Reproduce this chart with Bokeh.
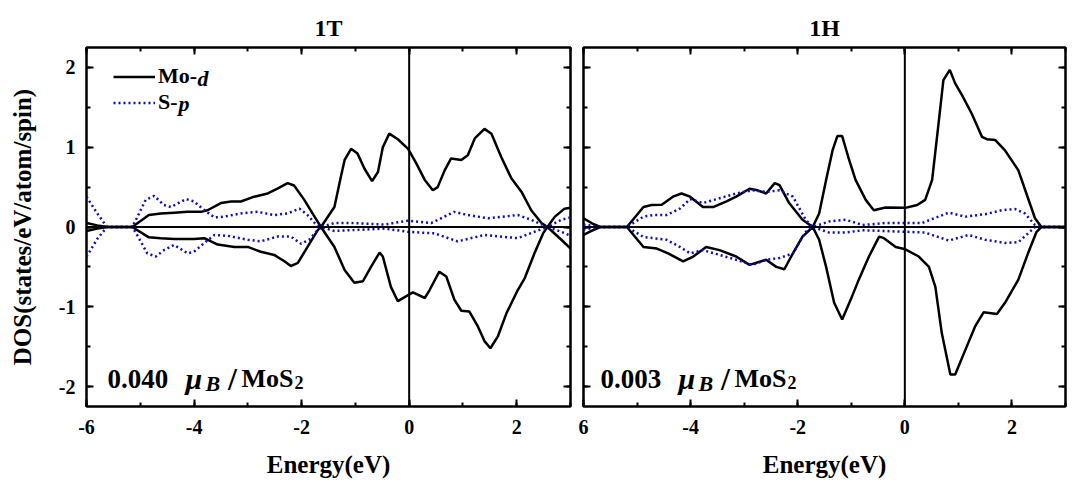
from bokeh.plotting import figure
from bokeh.models import (LinearAxis, SingleIntervalTicker, Span, Label, Legend,
                          LegendItem, Range1d)
from bokeh.layouts import row
from bokeh.embed import file_html
from bokeh.resources import INLINE

# ---------------- data ----------------
panel_titles = ["1T", "1H"]
moment_values = ["0.040", "0.003"]
x_ticks = [-6, -4, -2, 0, 2]
y_ticks = [-2, -1, 0, 1, 2]

# 1T : Mo-d spin up / down
t_mo_up_e = [-6.0, -5.8, -5.6, -5.15, -4.84, -4.62, -4.37, -4.12, -3.87, -3.75, -3.50, -3.31, -3.13,
             -2.88, -2.63, -2.45, -2.26, -2.14, -1.95, -1.76, -1.64, -1.39, -1.27, -1.20, -1.08, -0.96,
             -0.83, -0.69, -0.58, -0.49, -0.37, -0.21, -0.02, 0.13, 0.29, 0.44, 0.53, 0.66, 0.78, 0.97,
             1.09, 1.22, 1.40, 1.53, 1.71, 1.90, 2.09, 2.27, 2.46, 2.57, 2.71, 2.89, 3.0]
t_mo_up = [0.05, 0.02, 0.0, 0.0, 0.15, 0.17, 0.18, 0.19, 0.19, 0.21, 0.30, 0.32, 0.32,
           0.38, 0.42, 0.48, 0.55, 0.52, 0.34, 0.13, 0.0, 0.25, 0.63, 0.84, 0.98, 0.92,
           0.73, 0.575, 0.69, 1.0, 1.17, 1.10, 0.98, 0.80, 0.59, 0.46, 0.50, 0.71, 0.86, 0.84,
           0.90, 1.11, 1.23, 1.17, 0.88, 0.61, 0.44, 0.21, 0.05, 0.0, 0.13, 0.23, 0.24]
t_mo_dn_e = [-6.0, -5.8, -5.6, -5.15, -4.84, -4.62, -4.37, -4.0, -3.81, -3.56, -3.25, -3.0, -2.76,
             -2.51, -2.32, -2.20, -2.07, -1.89, -1.70, -1.64, -1.39, -1.20, -1.02, -0.86, -0.71,
             -0.55, -0.49, -0.34, -0.21, -0.06, 0.07, 0.29, 0.38, 0.56, 0.69, 0.84, 0.97, 1.12,
             1.28, 1.40, 1.51, 1.65, 1.81, 2.02, 2.15, 2.33, 2.49, 2.57, 2.83, 3.0]
t_mo_dn = [-0.05, -0.02, 0.0, 0.0, -0.13, -0.14, -0.15, -0.15, -0.14, -0.22, -0.25, -0.25, -0.31,
           -0.35, -0.43, -0.49, -0.45, -0.25, -0.04, 0.0, -0.25, -0.54, -0.70, -0.68, -0.50,
           -0.32, -0.37, -0.75, -0.93, -0.87, -0.82, -0.89, -0.79, -0.56, -0.62, -0.91, -1.05, -1.06,
           -1.25, -1.43, -1.52, -1.37, -1.08, -0.79, -0.64, -0.33, -0.08, 0.0, -0.16, -0.27]
# 1T : S-p spin up / down
t_sp_up_e = [-6.0, -5.80, -5.62, -5.15, -5.05, -4.90, -4.74, -4.56, -4.43, -4.15, -4.0, -3.81, -3.62,
             -3.44, -3.13, -2.82, -2.51, -2.26, -2.04, -1.89, -1.73, -1.64, -1.39, -1.08, -0.46,
             -0.02, 0.41, 0.84, 1.09, 1.47, 2.02, 2.27, 2.57, 2.83, 3.0]
t_sp_up = [0.38, 0.17, 0.0, 0.0, 0.13, 0.34, 0.39, 0.275, 0.25, 0.35, 0.32, 0.21, 0.12,
           0.13, 0.17, 0.19, 0.15, 0.17, 0.23, 0.15, 0.03, 0.0, 0.05, 0.05, 0.03,
           0.08, 0.05, 0.19, 0.15, 0.11, 0.15, 0.09, 0.0, 0.09, 0.12]
t_sp_dn_e = [-6.0, -5.80, -5.62, -5.15, -5.05, -4.87, -4.71, -4.56, -4.37, -4.12, -4.0, -3.81, -3.62,
             -3.38, -3.0, -2.76, -2.45, -2.20, -2.01, -1.86, -1.70, -1.64, -1.39, -0.46, -0.02,
             0.47, 0.90, 1.40, 2.02, 2.33, 2.57, 2.83, 3.0]
t_sp_dn = [-0.37, -0.15, 0.0, 0.0, -0.11, -0.33, -0.37, -0.29, -0.225, -0.33, -0.31, -0.20, -0.10,
           -0.11, -0.16, -0.18, -0.12, -0.12, -0.21, -0.16, -0.04, 0.0, -0.05, -0.02, -0.06,
           -0.08, -0.18, -0.10, -0.14, -0.06, 0.0, -0.06, -0.11]

# 1H : Mo-d spin up / down
h_mo_up_e = [-6.0, -5.85, -5.69, -5.19, -4.88, -4.73, -4.54, -4.33, -4.17, -4.01, -3.77, -3.58, -3.33,
             -3.15, -2.90, -2.75, -2.59, -2.43, -2.34, -2.16, -1.91, -1.72, -1.60, -1.47, -1.35,
             -1.26, -1.17, -1.04, -0.92, -0.73, -0.58, -0.36, 0.01, 0.23, 0.38, 0.51, 0.63, 0.72,
             0.84, 0.94, 1.07, 1.25, 1.44, 1.53, 1.69, 1.87, 2.12, 2.27, 2.43, 2.55, 3.0]
h_mo_up = [0.11, 0.05, 0.0, 0.0, 0.25, 0.275, 0.28, 0.38, 0.42, 0.38, 0.25, 0.25, 0.32,
           0.38, 0.48, 0.46, 0.42, 0.55, 0.525, 0.30, 0.09, 0.0, 0.17, 0.59, 0.96,
           1.14, 1.14, 0.84, 0.59, 0.34, 0.21, 0.245, 0.24, 0.275, 0.34, 0.59, 1.30, 1.84,
           1.97, 1.80, 1.65, 1.42, 1.13, 1.10, 1.09, 0.96, 0.71, 0.42, 0.11, 0.0, 0.0]
h_mo_dn_e = [-6.0, -5.85, -5.69, -5.19, -4.88, -4.63, -4.42, -4.14, -3.95, -3.71, -3.46, -3.15, -2.90,
             -2.59, -2.40, -2.25, -2.09, -1.91, -1.72, -1.60, -1.47, -1.32, -1.17, -1.01, -0.86,
             -0.67, -0.48, -0.39, -0.17, 0.01, 0.26, 0.45, 0.57, 0.69, 0.85, 0.94, 1.13, 1.31,
             1.47, 1.72, 1.87, 2.12, 2.30, 2.46, 2.55, 3.0]
h_mo_dn = [-0.10, -0.05, 0.0, 0.0, -0.25, -0.27, -0.33, -0.43, -0.37, -0.25, -0.29, -0.37, -0.475,
           -0.41, -0.50, -0.53, -0.33, -0.12, 0.0, -0.16, -0.50, -0.95, -1.16, -0.91, -0.66,
           -0.37, -0.12, -0.14, -0.25, -0.28, -0.37, -0.50, -0.75, -1.33, -1.85, -1.85, -1.54, -1.25,
           -1.07, -1.09, -0.95, -0.66, -0.33, -0.06, 0.0, 0.0]
# 1H : S-p spin up / down
h_sp_up_e = [-6.0, -5.69, -5.19, -4.88, -4.70, -4.45, -4.20, -4.01, -3.77, -3.46, -3.15, -2.84, -2.59,
             -2.34, -2.09, -1.85, -1.72, -1.41, -1.10, -0.79, -0.36, 0.01, 0.32, 0.82, 1.13, 1.50,
             1.81, 2.06, 2.24, 2.43, 2.55, 3.0]
h_sp_up = [0.03, 0.0, 0.0, 0.13, 0.15, 0.15, 0.23, 0.35, 0.30, 0.36, 0.42, 0.46, 0.44,
           0.46, 0.38, 0.09, 0.0, 0.07, 0.09, 0.025, 0.05, 0.05, 0.05, 0.18, 0.13, 0.16,
           0.21, 0.225, 0.17, 0.025, 0.0, 0.0]
h_sp_dn_e = [-6.0, -5.69, -5.19, -4.88, -4.45, -4.20, -4.01, -3.77, -3.46, -3.15, -2.84, -2.59, -2.34,
             -2.09, -1.85, -1.72, -1.41, -1.10, -0.79, 0.01, 0.38, 0.82, 1.19, 1.50, 1.87, 2.12,
             2.30, 2.43, 2.55, 3.0]
h_sp_dn = [-0.03, 0.0, 0.0, -0.125, -0.16, -0.25, -0.33, -0.29, -0.35, -0.41, -0.475, -0.41, -0.39,
           -0.33, -0.06, 0.0, -0.07, -0.07, -0.04, -0.06, -0.07, -0.17, -0.10, -0.16, -0.20, -0.19,
           -0.08, 0.0, 0.0, 0.0]

# ---------------- styling ----------------
FONT = "Liberation Serif"
BLUE = "#0c0cc4"


def style_axis(ax, show_labels, ticks):
    ax.axis_line_color = None
    ax.major_tick_in = 7
    ax.major_tick_out = 0
    ax.minor_tick_in = 4
    ax.minor_tick_out = 0
    ax.major_tick_line_width = 2
    ax.minor_tick_line_width = 2
    ax.major_tick_line_color = "black"
    ax.minor_tick_line_color = "black"
    ax.major_label_text_font = FONT
    ax.major_label_text_font_style = "bold"
    ax.major_label_text_color = "black"
    ax.axis_label_text_color = "black"
    if show_labels:
        ax.major_label_text_font_size = "20px"
        ax.major_label_overrides = {t: str(t) for t in ticks}
    else:
        ax.major_label_text_font_size = "1px"
        ax.major_label_standoff = 0
        ax.major_label_overrides = {t: "" for t in ticks}


def make_panel(idx, mo_up, sp_up, mo_dn, sp_dn, left):
    p = figure(frame_width=484 if left else 482, frame_height=359,
               x_range=Range1d(-6, 3), y_range=Range1d(-2.25, 2.25),
               output_backend="svg", toolbar_location=None, title=panel_titles[idx],
               min_border_left=86 if left else 8, min_border_right=5,
               min_border_top=47, min_border_bottom=79)
    p.title.align = "center"
    p.title.text_font = FONT
    p.title.text_font_style = "bold"
    p.title.text_font_size = "24px"
    p.title.text_color = "black"
    p.title.standoff = 13
    p.grid.visible = False
    p.outline_line_color = "black"
    p.outline_line_width = 2.5
    p.background_fill_color = "white"
    p.border_fill_color = "white"

    xt = SingleIntervalTicker(interval=2, num_minor_ticks=2)
    yt = SingleIntervalTicker(interval=1, num_minor_ticks=2)
    p.xaxis.ticker = xt
    p.yaxis.ticker = yt
    p.add_layout(LinearAxis(ticker=xt), "above")
    p.add_layout(LinearAxis(ticker=yt), "right")

    for ax in p.xaxis:
        style_axis(ax, ax is p.below[0], x_ticks)
    for ax in p.yaxis:
        style_axis(ax, left and ax is p.left[0], y_ticks)

    bx = p.below[0]
    bx.major_label_standoff = 13
    bx.axis_label = "Energy(eV)"
    bx.axis_label_text_font = FONT
    bx.axis_label_text_font_style = "bold"
    bx.axis_label_text_font_size = "25px"
    bx.axis_label_standoff = 14
    if not left:
        bx.major_label_overrides = {**{t: str(t) for t in x_ticks}, -6: "6"}
    if left:
        ly = p.left[0]
        ly.major_label_standoff = 11
        ly.axis_label = "DOS(states/eV/atom/spin)"
        ly.axis_label_text_font = FONT
        ly.axis_label_text_font_style = "bold"
        ly.axis_label_text_font_size = "25px"
        ly.axis_label_standoff = 20

    p.add_layout(Span(location=0, dimension="width", line_color="black", line_width=2))
    p.add_layout(Span(location=0, dimension="height", line_color="black", line_width=2))

    r_mo = p.line(mo_up[0], mo_up[1], line_color="black", line_width=2.5)
    p.line(mo_dn[0], mo_dn[1], line_color="black", line_width=2.5)
    r_sp = p.line(sp_up[0], sp_up[1], line_color=BLUE, line_width=2.5, line_dash="2 3")
    p.line(sp_dn[0], sp_dn[1], line_color=BLUE, line_width=2.5, line_dash="2 3")

    # moment annotation  e.g. 0.040 μB/MoS2
    x0 = 21 if left else 17
    base = 28
    txt = dict(x_units="screen", y_units="screen", text_font=FONT, text_color="black",
               text_baseline="alphabetic", text_font_style="bold")
    ital = {**txt, "text_font_style": "bold italic"}
    p.add_layout(Label(x=x0, y=base, text=moment_values[idx], text_font_size="27px", **txt))
    p.add_layout(Label(x=x0 + 78, y=base, text="\u03bc", text_font_size="30px", **ital))
    p.add_layout(Label(x=x0 + 98, y=base - 5, text="B", text_font_size="22px", **ital))
    p.add_layout(Label(x=x0 + 125, y=base, text="/", text_font_size="32px",
                       text_align="center", **txt))
    p.add_layout(Label(x=x0 + 134, y=base, text="MoS", text_font_size="26px", **txt))
    p.add_layout(Label(x=x0 + 187, y=base - 4, text="2", text_font_size="18px", **txt))

    if left:
        leg = Legend(items=[LegendItem(label="Mo-", renderers=[r_mo]),
                            LegendItem(label="S-", renderers=[r_sp])],
                     location=(27, 291), glyph_width=42, glyph_height=25, label_height=25,
                     padding=0, spacing=0, margin=0, label_standoff=3,
                     border_line_color=None, background_fill_alpha=0,
                     label_text_font=FONT, label_text_font_style="bold",
                     label_text_font_size="22px", label_text_color="black")
        p.add_layout(leg)
        it = dict(x_units="screen", y_units="screen", text_font=FONT, text_color="black",
                  text_baseline="middle", text_font_style="bold italic", text_font_size="22px")
        p.add_layout(Label(x=111, y=328.5, text="d", **it))
        p.add_layout(Label(x=92, y=303.5, text="p", **it))
    return p


p1 = make_panel(0, (t_mo_up_e, t_mo_up), (t_sp_up_e, t_sp_up),
                (t_mo_dn_e, t_mo_dn), (t_sp_dn_e, t_sp_dn), True)
p2 = make_panel(1, (h_mo_up_e, h_mo_up), (h_sp_up_e, h_sp_up),
                (h_mo_dn_e, h_mo_dn), (h_sp_dn_e, h_sp_dn), False)

layout = row(p1, p2)
open("out.html", "w").write(file_html(layout, INLINE))
